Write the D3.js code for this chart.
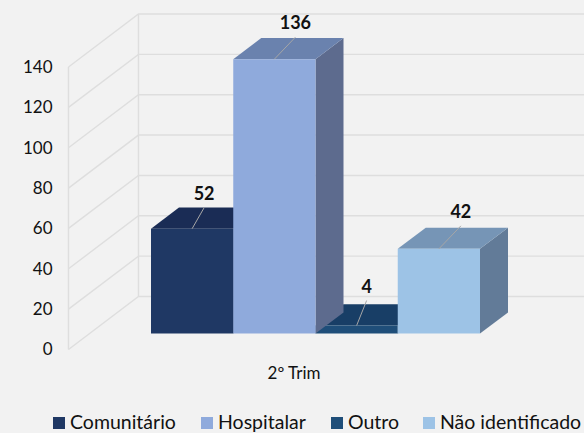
<!DOCTYPE html>
<html>
<head>
<meta charset="utf-8">
<script src="https://cdn.jsdelivr.net/npm/d3@7"></script>
<style>
  html, body { margin: 0; padding: 0; background: #f2f2f2; }
  svg { display: block; }
  text { font-family: Lato, sans-serif; fill: #111; }
</style>
</head>
<body>
<div id="chart"></div>
<script>
// ===== DATA =====
const period = ['2º Trim'];
const seriesNames = ['Comunitário', 'Hospitalar', 'Outro', 'Não identificado'];
const seriesValues = [52, 136, 4, 42];
const yTicks = [0, 20, 40, 60, 80, 100, 120, 140];

// Colours per series: front, top, side
const frontColors = ['#1f3864', '#8faadc', '#1f4e79', '#9dc3e6'];
const topColors = ['#1a2c55', '#6a82ae', '#183e66', '#7695b6'];
const sideColors = ['#17284c', '#5d6b8e', '#16365a', '#627b98'];

const width = 584;
const height = 433;

// Front wall of the 3D box and how far the floor runs back
const wallX = 68.5;
const wallBottom = 349.5;
const wallTop = 67;
const depthX = 70;
const depthY = -53;

// Bars sit part way into the box
const barZ = { front: 0.3, back: 0.7 };

const svg = d3.select('#chart').append('svg')
  .attr('width', width)
  .attr('height', height);

const y = d3.scaleLinear().domain([0, 140]).range([wallBottom, wallTop]);
const x = d3.scaleBand().domain(seriesNames).range([151, 480]).padding(0);

// value + depth fraction to screen
const project = (px, value, z) => [px + depthX * z - depthX * barZ.front, y(value) + depthY * z];

// Walls
const grid = svg.append('g')
  .attr('fill', 'none')
  .attr('stroke', '#dedede')
  .attr('stroke-width', 1.4);

grid.append('line')
  .attr('x1', wallX).attr('x2', wallX)
  .attr('y1', y(0)).attr('y2', y(140));
grid.append('line')
  .attr('x1', wallX + depthX).attr('x2', wallX + depthX)
  .attr('y1', y(0) + depthY).attr('y2', y(140) + depthY);

yTicks.forEach(t => {
  grid.append('polyline')
    .attr('points', [
      [wallX, y(t)],
      [wallX + depthX, y(t) + depthY],
      [width, y(t) + depthY]
    ].join(' '));
});

// Y axis labels
const yAxis = d3.axisLeft(y).tickValues(yTicks).tickSize(0).tickPadding(16);
svg.append('g')
  .attr('transform', `translate(${wallX},0)`)
  .call(yAxis)
  .call(g => g.select('.domain').remove())
  .call(g => g.selectAll('text')
    .style('font-family', 'Lato, sans-serif')
    .style('font-size', '17px')
    .attr('fill', '#111'));

// Tall bars paint over their shorter neighbours
const order = d3.range(seriesNames.length).sort((a, b) => seriesValues[a] - seriesValues[b]);

const barGroups = svg.append('g').selectAll('g')
  .data(order)
  .join('g');

const poly = pts => pts.map(p => p.join(',')).join(' ');

barGroups.each(function(i) {
  const g = d3.select(this);
  const left = x(seriesNames[i]);
  const right = left + x.bandwidth();
  const v = seriesValues[i];

  g.append('polygon')
    .attr('fill', sideColors[i])
    .attr('points', poly([
      project(right, 0, barZ.front), project(right, 0, barZ.back),
      project(right, v, barZ.back), project(right, v, barZ.front)
    ]));
  g.append('polygon')
    .attr('fill', topColors[i])
    .attr('points', poly([
      project(left, v, barZ.front), project(right, v, barZ.front),
      project(right, v, barZ.back), project(left, v, barZ.back)
    ]));
  g.append('polygon')
    .attr('fill', frontColors[i])
    .attr('points', poly([
      project(left, 0, barZ.front), project(right, 0, barZ.front),
      project(right, v, barZ.front), project(left, v, barZ.front)
    ]));
});

// Leader lines and data labels
const leaderShift = [[12, -21], [21, -22], [10, -25], [22, -23]];

seriesNames.forEach((name, i) => {
  const [px, py] = project(x(name) + x.bandwidth() / 2, seriesValues[i], barZ.front);
  const [dx, dy] = leaderShift[i];
  svg.append('line')
    .attr('x1', px).attr('y1', py)
    .attr('x2', px + dx).attr('y2', py + dy)
    .attr('stroke', '#a6a6a6')
    .attr('stroke-width', 1);
  svg.append('text')
    .attr('x', px + dx)
    .attr('y', py + dy - 8)
    .attr('text-anchor', 'middle')
    .attr('font-size', 18)
    .attr('font-weight', 700)
    .attr('fill', '#000')
    .text(seriesValues[i]);
});

// Category label
svg.append('text')
  .attr('x', 294)
  .attr('y', 379)
  .attr('text-anchor', 'middle')
  .attr('font-size', 17)
  .text(period[0]);

// Legend
const legendX = [53, 201, 331, 423];
const legend = svg.append('g').selectAll('g')
  .data(seriesNames)
  .join('g')
  .attr('transform', (d, i) => `translate(${legendX[i]},417)`);

legend.append('rect')
  .attr('width', 12)
  .attr('height', 12)
  .attr('fill', (d, i) => frontColors[i]);

legend.append('text')
  .attr('x', 17)
  .attr('y', 12)
  .attr('font-size', 19.5)
  .text(d => d);
</script>
</body>
</html>
